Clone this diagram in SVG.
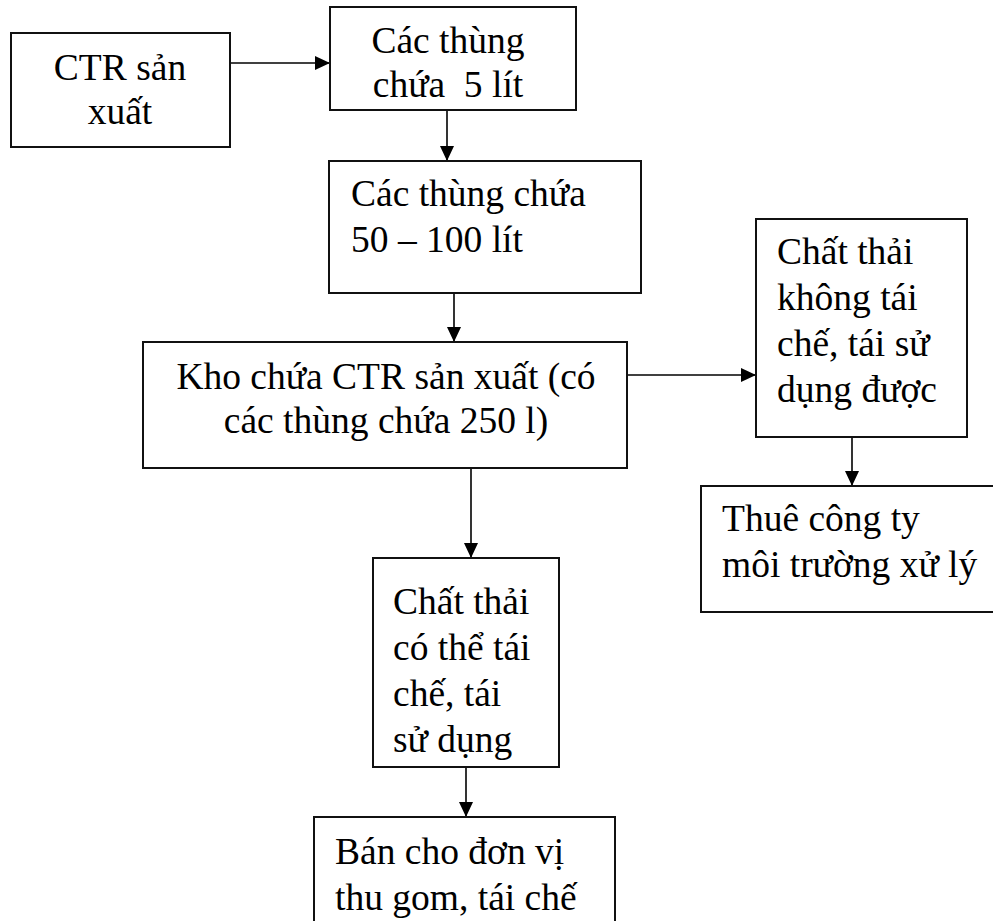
<svg xmlns="http://www.w3.org/2000/svg" width="993" height="921" viewBox="0 0 993 921">
  <style>
    .box { fill: #ffffff; stroke: #111111; stroke-width: 2; }
    .lbl { font-family: "Liberation Serif", "Times New Roman", serif; font-size: 37.5px; fill: #000000; }
    .mid { text-anchor: middle; }
    .edge { fill: none; stroke: #000000; stroke-width: 1.6; }
  </style>
  <defs>
    <marker id="arrow" markerUnits="userSpaceOnUse" markerWidth="15" markerHeight="14" refX="15" refY="7" orient="auto">
      <path d="M0,0 L15,7 L0,14 z" fill="#000000"/>
    </marker>
  </defs>
  <rect width="993" height="921" fill="#ffffff"/>

  <!-- connectors -->
  <g id="connectors">
    <line class="edge" x1="231" y1="63" x2="330" y2="63" marker-end="url(#arrow)"/>
    <line class="edge" x1="447" y1="110" x2="447" y2="161" marker-end="url(#arrow)"/>
    <line class="edge" x1="454" y1="293" x2="454" y2="342" marker-end="url(#arrow)"/>
    <line class="edge" x1="627" y1="375" x2="756" y2="375" marker-end="url(#arrow)"/>
    <line class="edge" x1="471" y1="468" x2="471" y2="558" marker-end="url(#arrow)"/>
    <line class="edge" x1="852" y1="437" x2="852" y2="486" marker-end="url(#arrow)"/>
    <line class="edge" x1="466" y1="767" x2="466" y2="817" marker-end="url(#arrow)"/>
  </g>

  <!-- nodes -->
  <g id="ctr-san-xuat">
    <rect class="box" x="11" y="33" width="219" height="114"/>
    <text class="lbl mid" x="120" y="80">CTR sản</text>
    <text class="lbl mid" x="120" y="124">xuất</text>
  </g>

  <g id="thung-5-lit">
    <rect class="box" x="330" y="7" width="246" height="103"/>
    <text class="lbl mid" x="448" y="53" xml:space="preserve">Các thùng</text>
    <text class="lbl mid" x="448" y="97" xml:space="preserve">chứa  5 lít</text>
  </g>

  <g id="thung-50-100-lit">
    <rect class="box" x="329" y="161" width="312" height="132"/>
    <text class="lbl" x="351" y="206">Các thùng chứa</text>
    <text class="lbl" x="351" y="252">50 – 100 lít</text>
  </g>

  <g id="kho-chua">
    <rect class="box" x="143" y="342" width="484" height="126"/>
    <text class="lbl mid" x="386" y="389">Kho chứa CTR sản xuất (có</text>
    <text class="lbl mid" x="386" y="433">các thùng chứa 250 l)</text>
  </g>

  <g id="khong-tai-che">
    <rect class="box" x="756" y="219" width="211" height="218"/>
    <text class="lbl" x="777" y="264">Chất thải</text>
    <text class="lbl" x="777" y="310">không tái</text>
    <text class="lbl" x="777" y="356">chế, tái sử</text>
    <text class="lbl" x="777" y="402">dụng được</text>
  </g>

  <g id="thue-cong-ty">
    <rect class="box" x="701" y="486" width="310" height="126"/>
    <text class="lbl" x="722" y="531">Thuê công ty</text>
    <text class="lbl" x="722" y="577">môi trường xử lý</text>
  </g>

  <g id="co-the-tai-che">
    <rect class="box" x="373" y="558" width="186" height="209"/>
    <text class="lbl" x="393" y="614">Chất thải</text>
    <text class="lbl" x="393" y="660">có thể tái</text>
    <text class="lbl" x="393" y="706">chế, tái</text>
    <text class="lbl" x="393" y="752">sử dụng</text>
  </g>

  <g id="ban-cho-don-vi">
    <rect class="box" x="314" y="817" width="301" height="130"/>
    <text class="lbl" x="335" y="864">Bán cho đơn vị</text>
    <text class="lbl" x="335" y="910">thu gom, tái chế</text>
  </g>
</svg>
